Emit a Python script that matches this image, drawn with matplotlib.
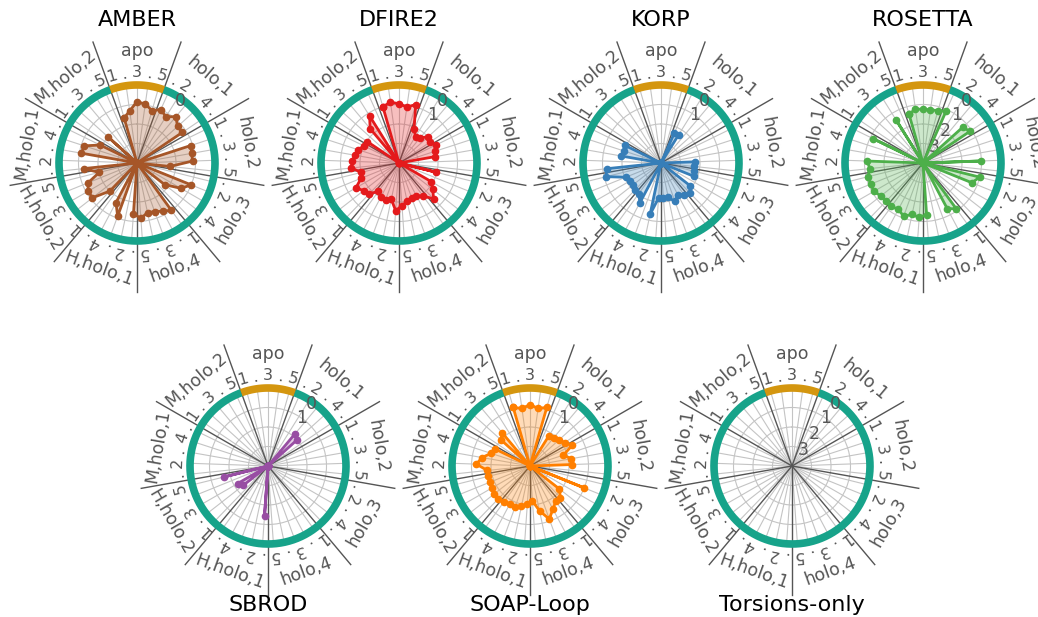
import numpy as np
import matplotlib
matplotlib.use('Agg')
import matplotlib.pyplot as plt

groups = ['apo', 'holo,1', 'holo,2', 'holo,3', 'holo,4',
          'H,holo,1', 'H,holo,2', 'M,holo,1', 'M,holo,2']
n_per_group = 5
center_value = 4.0   # values plotted at the centre of each radar

amber = [1.6, 1.3, 0.85, 0.95, 1.2,
         1.0, 1.2, 0.9, 1.2, 1.2,
         4, 1.1, 1.15, 1.15, 2.3,
         4, 1.0, 1.4, 2.2, 4,
         1.0, 1.2, 1.35, 1.4, 1.15,
         1.4, 4, 1.1, 1.7, 4,
         2.0, 1.1, 1.1, 1.3, 2.0,
         1.25, 4, 1.1, 1.15, 1.9,
         4, 2.0, 4, 4, 4]
dfire2 = [1.0, 0.85, 0.96, 1.1, 0.88,
          2.1, 2.4, 2.3, 2.0, 2.1,
          1.9, 2.05, 2.1, 4, 4,
          2.05, 4, 2.1, 1.8, 1.45,
          1.9, 2.1, 2.1, 2.0, 1.8,
          1.55, 2.1, 2.0, 2.0, 2.2,
          1.8, 1.7, 1.45, 1.9, 2.0,
          1.55, 1.6, 1.7, 1.8, 2.0,
          2.05, 4, 1.7, 1.15, 4]
korp = [4, 4, 4, 4, 4,
        2.33, 2.3, 4, 4, 4,
        4, 4, 4, 2.25, 2.3,
        2.25, 2.2, 4, 2.1, 1.85,
        2.0, 2.15, 1.9, 2.2, 2.2,
        2.2, 1.3, 4, 1.7, 2.05,
        2.1, 2.2, 2.15, 2.05, 1.1,
        1.2, 4, 1.9, 2.0, 1.95,
        4, 4, 4, 4, 4]
rosetta = [1.4, 1.2, 1.25, 1.25, 1.2,
           1.1, 4, 4, 1.25, 1.1,
           4, 4, 4, 1.0, 4,
           1.0, 1.3, 4, 4, 4,
           1.1, 1.35, 4, 4, 1.35,
           1.2, 1.3, 1.1, 1.3, 1.25,
           1.3, 1.25, 1.1, 1.1, 1.1,
           1.25, 1.15, 4, 4, 1.15,
           4, 4, 4, 1.4, 4]
sbrod = [4, 4, 4, 4, 4,
         4, 4, 1.85, 2.0, 4,
         4, 4, 4, 4, 4,
         4, 4, 4, 4, 4,
         4, 4, 4, 4, 4,
         1.45, 4, 4, 4, 4,
         4, 2.4, 2.2, 4, 1.67,
         4, 4, 4, 4, 4,
         4, 4, 4, 4, 4]
soap_loop = [0.87, 1.02, 0.85, 1.02, 0.87,
             4, 2.2, 2.1, 2.0, 1.85,
             1.6, 2.2, 1.85, 1.85, 4,
             4, 1.0, 4, 2.1, 1.75,
             1.75, 1.5, 1.1, 1.65, 2.2,
             2.05, 1.9, 1.75, 1.8, 1.7,
             1.65, 1.65, 1.75, 1.77, 1.8,
             1.8, 1.25, 1.5, 1.9, 2.0,
             4, 2.0, 1.77, 4, 4]
torsions_only = []

methods = ['AMBER', 'DFIRE2', 'KORP', 'ROSETTA', 'SBROD', 'SOAP-Loop', 'Torsions-only']
series = [amber, dfire2, korp, rosetta, sbrod, soap_loop, torsions_only]
colors = ['#a65628', '#e41a1c', '#377eb8', '#4daf4a', '#984ea3', '#ff7f00', '#999999']
radial_shown = {'AMBER': [0], 'DFIRE2': [0, 1], 'KORP': [0, 1], 'ROSETTA': [0, 1, 2, 3],
                'SBROD': [0, 1], 'SOAP-Loop': [0, 1], 'Torsions-only': [0, 1, 2, 3]}

W, H = 1038, 617
fig = plt.figure(figsize=(W / 100, H / 100), dpi=100)
centers = [(137, 163), (399, 163), (661, 163), (923, 163),
           (268, 466), (530, 466), (792, 466)]
R = 78
txt_col = '#555555'

N = len(groups) * n_per_group
step = 360.0 / N
theta_deg = (-2 * step + step * np.arange(N)) % 360
theta = np.deg2rad(theta_deg)
tick_text = [str(i % n_per_group + 1) if i % 2 == 0 else '.' for i in range(N)]
group_deg = [g * 360.0 / len(groups) for g in range(len(groups))]
half = 180.0 / len(groups)

for k, (name, vals, col) in enumerate(zip(methods, series, colors)):
    cx, cy = centers[k]
    ax = fig.add_axes([(cx - R) / W, 1 - (cy + R) / H, 2 * R / W, 2 * R / H],
                      projection='polar')
    ax.set_theta_zero_location('N')
    ax.set_theta_direction(-1)
    ax.set_xlim(0, 2 * np.pi)
    ax.set_ylim(0, center_value)
    ax.set_autoscale_on(False)
    ax.set_xticks(np.sort(theta))
    ax.set_xticklabels([])
    ax.set_yticks([1, 2, 3])
    ax.set_yticklabels([])
    ax.tick_params(length=0)
    ax.grid(True, color='#c4c4c4', lw=0.8)
    ax.spines['polar'].set_visible(False)

    # group separators
    for gd in group_deg:
        b = np.deg2rad((gd - half) % 360)
        ax.plot([b, b], [0, 6.6], color='#555555', lw=1.0, clip_on=False, zorder=1.6)

    # outer ring
    t1 = np.deg2rad(np.linspace(360 - half, 360 + half, 60))
    t2 = np.deg2rad(np.linspace(half, 360 - half, 400))
    ax.plot(t2, np.full_like(t2, center_value), color='#17a38a', lw=5.5,
            solid_capstyle='butt', clip_on=False, zorder=3)
    ax.plot(t1, np.full_like(t1, center_value), color='#d4960f', lw=5.5,
            solid_capstyle='butt', clip_on=False, zorder=3.1)

    # tick labels
    for t, td, s in zip(theta, theta_deg, tick_text):
        ax.text(t, 4.62, s, rotation=-td, ha='center', va='center',
                rotation_mode='anchor', fontsize=11.5, color=txt_col, clip_on=False)
    # group labels
    for gd, g in zip(group_deg, groups):
        rot = -gd
        if 90 < gd < 270:
            rot += 180
        ax.text(np.deg2rad(gd), 5.75, g, rotation=rot, ha='center', va='center',
                rotation_mode='anchor', fontsize=12.5, color=txt_col, clip_on=False)
    # radial labels
    for v in radial_shown[name]:
        ax.text(np.deg2rad(35), center_value - v - (0.1 if v == 0 else 0), str(v),
                ha='center', va='center', fontsize=12.5, color=txt_col, zorder=3.5,
                clip_on=False)

    if len(vals):
        r = center_value - np.asarray(vals, dtype=float)
        tc = np.append(theta, theta[0])
        rc = np.append(r, r[0])
        ax.fill(tc, rc, color=col, alpha=0.28, lw=0, zorder=2)
        ax.plot(tc, rc, color=col, lw=2, marker='o', ms=4.5, zorder=4)

    ty = 20 if k < 4 else 605
    fig.text(cx / W, 1 - ty / H, name, ha='center', va='center', fontsize=16, color='black')

fig.savefig('out.png', dpi=100)
